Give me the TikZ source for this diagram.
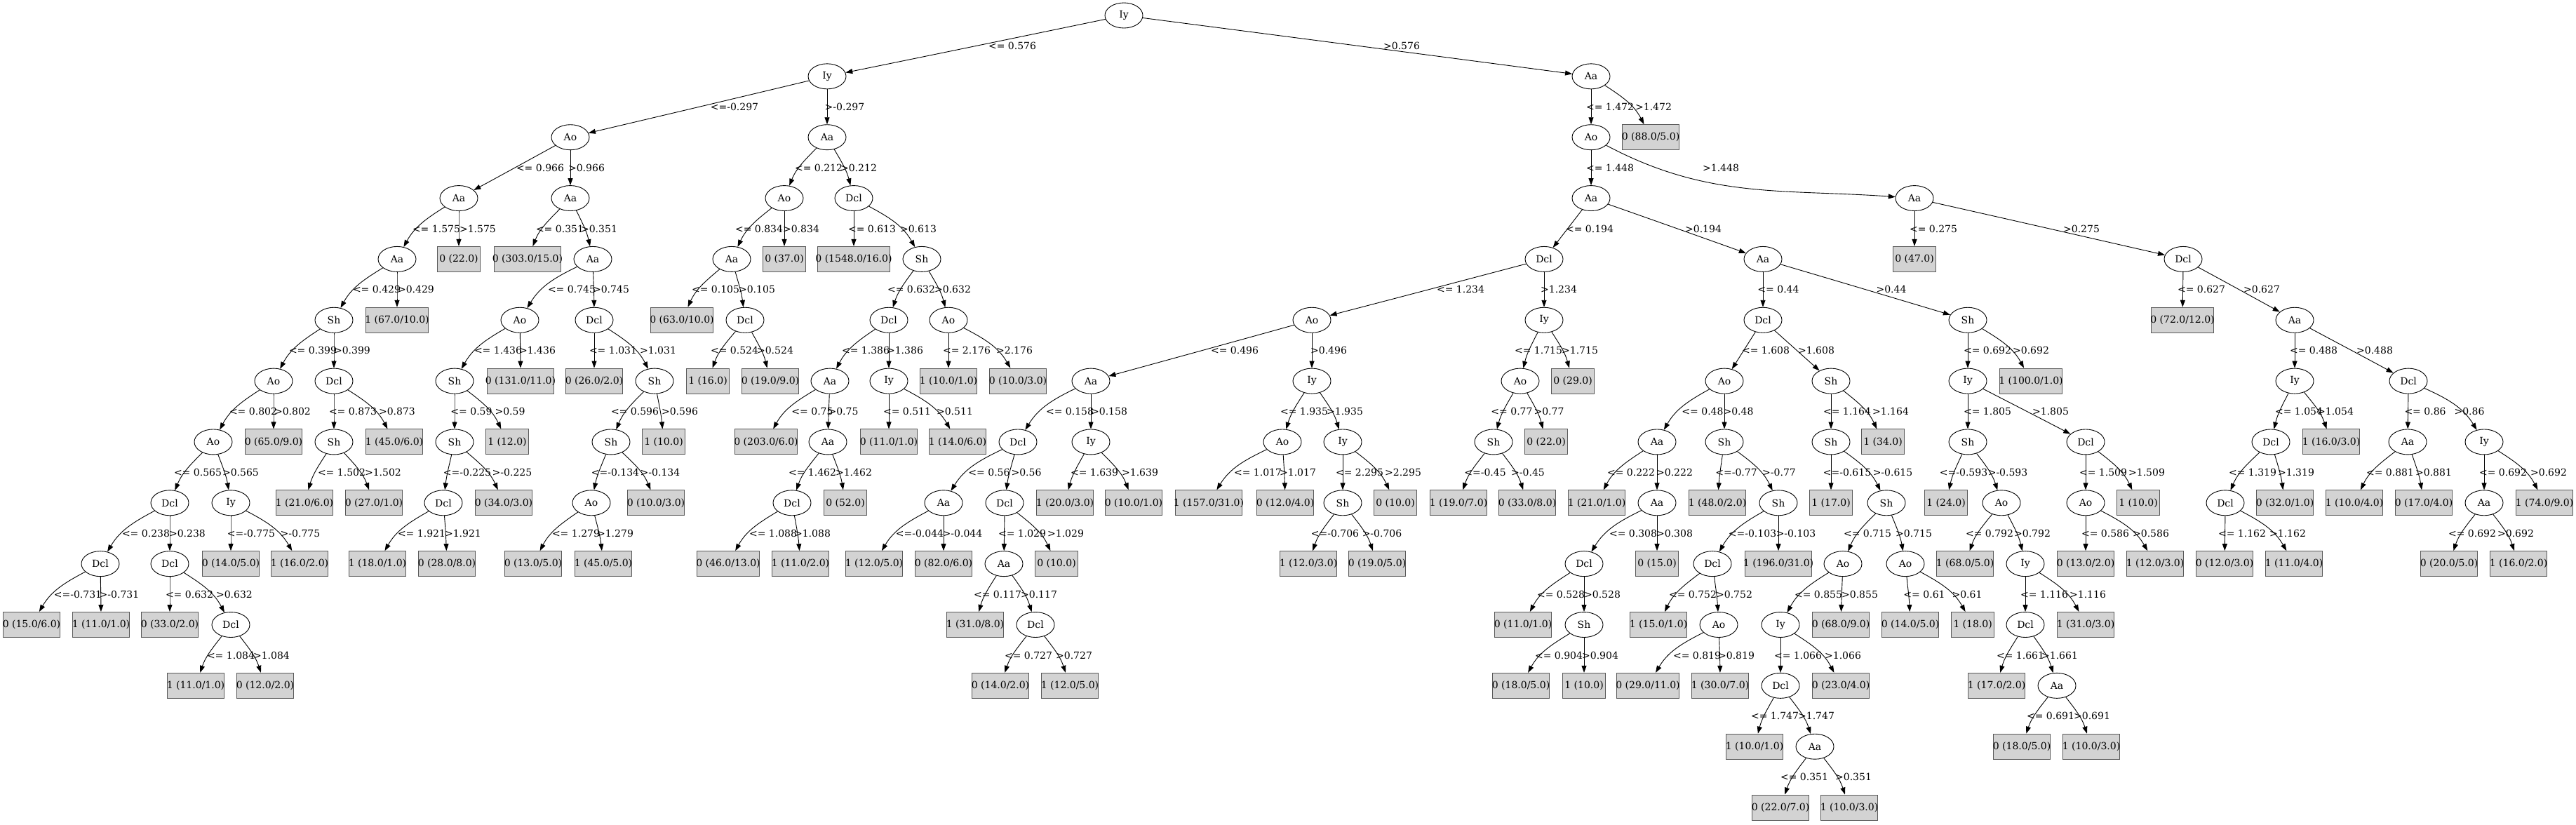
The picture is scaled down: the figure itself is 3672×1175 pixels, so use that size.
\documentclass[tikz,border=0pt]{standalone}
\usepackage{fontspec}
\setmainfont{DejaVu Serif}
\newfontfamily\tmsfont{Liberation Serif}
\usetikzlibrary{shapes.geometric,arrows.meta,calc}
\definecolor{leafgray}{RGB}{211,211,211}
\newlength\lfw
\tikzset{
  tnode/.style={ellipse,draw,line width=0.9pt,minimum width=54pt,minimum height=36pt,inner sep=0pt,font=\fontsize{14pt}{16pt}\selectfont},
  tleaf/.style={rectangle,draw=black!65,fill=leafgray,line width=1pt,minimum width=54pt,minimum height=36pt,inner xsep=8pt,inner ysep=0pt,font=\fontsize{14pt}{16pt}\selectfont},
  edgeline/.style={draw,line width=0.9pt,-{Triangle[length=10pt,width=7pt]}},
  elab/.style={inner sep=0pt,font=\fontsize{14pt}{16pt}\selectfont}
}
\newcommand\mkInner[4]{\node[tnode] (#1) at (#2,{22+86.85*#3}) {#4};}
\newcommand\mkLeaf[4]{\node[tleaf] (#1) at (#2,{22+86.85*#3}) {\settowidth{\lfw}{\tmsfont #4}\makebox[\lfw][c]{#4}};}
\newcommand\mkEdge[4]{%
  \draw[edgeline] let \p1=($(#2)-(#1)$), \n1={atan2(\y1,\x1)}, \n2={abs(\x1)>140?0:1},
    \n3={\n1+0.28*\n2*(\n1+90)}, \n4={\n1+180+0.38*\n2*(90-\n1-180)} in (#1) to[out=\n3,in=\n4] (#2);
  \path let \p1=($(#1)!0.5!(#2)$) in node[elab] (lab-#2) at (#4pt,\y1) {#3};}
\newcommand\mkEdgeS[4]{%
  \draw[edgeline] (#1) -- (#2);
  \path let \p1=($(#1)!0.5!(#2)$) in node[elab] (lab-#2) at (#4pt,\y1) {#3};}
\begin{document}
\begin{tikzpicture}[x=1pt,y=-1pt]
\useasboundingbox (0,0) rectangle (3672,1175);
\fill[white] (0,0) rectangle (3672,1175);
% level 0
\mkInner{r}{1602}{0}{Iy}
% level 1
\mkInner{a}{1179}{1}{Iy}
\mkInner{b}{2268}{1}{Aa}
% level 2
\mkInner{c}{813}{2}{Ao}
\mkInner{d}{1179}{2}{Aa}
\mkInner{e}{2268}{2}{Ao}
\mkLeaf{L1}{2353}{2}{0 (88.0/5.0)}
% level 3
\mkInner{f}{654}{3}{Aa}
\mkInner{g}{813}{3}{Aa}
\mkInner{h}{1118}{3}{Ao}
\mkInner{i}{1217}{3}{Dcl}
\mkInner{j}{2268}{3}{Aa}
\mkInner{k}{2729}{3}{Aa}
% level 4
\mkInner{l}{566}{4}{Aa}
\mkLeaf{L2}{654}{4}{0 (22.0)}
\mkLeaf{L3}{752}{4}{0 (303.0/15.0)}
\mkInner{m}{845}{4}{Aa}
\mkInner{n}{1043}{4}{Aa}
\mkLeaf{L4}{1118}{4}{0 (37.0)}
\mkLeaf{L5}{1217}{4}{0 (1548.0/16.0)}
\mkInner{o}{1314}{4}{Sh}
\mkInner{p}{2201}{4}{Dcl}
\mkInner{q}{2513}{4}{Aa}
\mkLeaf{L6}{2729}{4}{0 (47.0)}
\mkInner{s}{3112}{4}{Dcl}
% level 5
\mkInner{t}{476}{5}{Sh}
\mkLeaf{L7}{566}{5}{1 (67.0/10.0)}
\mkInner{u}{741}{5}{Ao}
\mkInner{v}{847}{5}{Dcl}
\mkLeaf{L8}{972}{5}{0 (63.0/10.0)}
\mkInner{w}{1062}{5}{Dcl}
\mkInner{x}{1267}{5}{Dcl}
\mkInner{y}{1352}{5}{Ao}
\mkInner{z}{1870}{5}{Ao}
\mkInner{aa}{2201}{5}{Iy}
\mkInner{ab}{2513}{5}{Dcl}
\mkInner{ac}{2805}{5}{Sh}
\mkLeaf{L9}{3111}{5}{0 (72.0/12.0)}
\mkInner{ad}{3271}{5}{Aa}
% level 6
\mkInner{ae}{390}{6}{Ao}
\mkInner{af}{476}{6}{Dcl}
\mkInner{ag}{648}{6}{Sh}
\mkLeaf{L10}{742}{6}{0 (131.0/11.0)}
\mkLeaf{L11}{847}{6}{0 (26.0/2.0)}
\mkInner{ah}{933}{6}{Sh}
\mkLeaf{L12}{1009}{6}{1 (16.0)}
\mkLeaf{L13}{1098}{6}{0 (19.0/9.0)}
\mkInner{ai}{1183}{6}{Aa}
\mkInner{aj}{1267}{6}{Iy}
\mkLeaf{L14}{1352}{6}{1 (10.0/1.0)}
\mkLeaf{L15}{1451}{6}{0 (10.0/3.0)}
\mkInner{ak}{1555}{6}{Aa}
\mkInner{al}{1870}{6}{Iy}
\mkInner{am}{2167}{6}{Ao}
\mkLeaf{L16}{2242}{6}{0 (29.0)}
\mkInner{an}{2458}{6}{Ao}
\mkInner{ao}{2610}{6}{Sh}
\mkInner{ap}{2805}{6}{Iy}
\mkLeaf{L17}{2895}{6}{1 (100.0/1.0)}
\mkInner{aq}{3271}{6}{Iy}
\mkInner{ar}{3433}{6}{Dcl}
% level 7
\mkInner{as}{304}{7}{Ao}
\mkLeaf{L18}{390}{7}{0 (65.0/9.0)}
\mkInner{at}{476}{7}{Sh}
\mkLeaf{L19}{562}{7}{1 (45.0/6.0)}
\mkInner{au}{648}{7}{Sh}
\mkLeaf{L20}{723}{7}{1 (12.0)}
\mkInner{av}{871}{7}{Sh}
\mkLeaf{L21}{946}{7}{1 (10.0)}
\mkLeaf{L22}{1092}{7}{0 (203.0/6.0)}
\mkInner{aw}{1180}{7}{Aa}
\mkLeaf{L23}{1267}{7}{0 (11.0/1.0)}
\mkLeaf{L24}{1365}{7}{1 (14.0/6.0)}
\mkInner{ax}{1451}{7}{Dcl}
\mkInner{ay}{1555}{7}{Iy}
\mkInner{az}{1828}{7}{Ao}
\mkInner{ba}{1914}{7}{Iy}
\mkInner{bb}{2129}{7}{Sh}
\mkLeaf{L25}{2204}{7}{0 (22.0)}
\mkInner{bc}{2362}{7}{Aa}
\mkInner{bd}{2458}{7}{Sh}
\mkInner{be}{2610}{7}{Sh}
\mkLeaf{L26}{2684}{7}{1 (34.0)}
\mkInner{bf}{2805}{7}{Sh}
\mkInner{bg}{2973}{7}{Dcl}
\mkInner{bh}{3237}{7}{Dcl}
\mkLeaf{L27}{3323}{7}{1 (16.0/3.0)}
\mkInner{bi}{3432}{7}{Aa}
\mkInner{bj}{3541}{7}{Iy}
% level 8
\mkInner{bk}{242}{8}{Dcl}
\mkInner{bl}{329}{8}{Iy}
\mkLeaf{L28}{434}{8}{1 (21.0/6.0)}
\mkLeaf{L29}{533}{8}{0 (27.0/1.0)}
\mkInner{bm}{632}{8}{Dcl}
\mkLeaf{L30}{718}{8}{0 (34.0/3.0)}
\mkInner{bn}{843}{8}{Ao}
\mkLeaf{L31}{935}{8}{0 (10.0/3.0)}
\mkInner{bo}{1129}{8}{Dcl}
\mkLeaf{L32}{1205}{8}{0 (52.0)}
\mkInner{bp}{1345}{8}{Aa}
\mkInner{bq}{1432}{8}{Dcl}
\mkLeaf{L33}{1518}{8}{1 (20.0/3.0)}
\mkLeaf{L34}{1616}{8}{0 (10.0/1.0)}
\mkLeaf{L35}{1723}{8}{1 (157.0/31.0)}
\mkLeaf{L36}{1832}{8}{0 (12.0/4.0)}
\mkInner{br}{1914}{8}{Sh}
\mkLeaf{L37}{1989}{8}{0 (10.0)}
\mkLeaf{L38}{2079}{8}{1 (19.0/7.0)}
\mkLeaf{L39}{2177}{8}{0 (33.0/8.0)}
\mkLeaf{L40}{2276}{8}{1 (21.0/1.0)}
\mkInner{bs}{2362}{8}{Aa}
\mkLeaf{L41}{2448}{8}{1 (48.0/2.0)}
\mkInner{bt}{2535}{8}{Sh}
\mkLeaf{L42}{2610}{8}{1 (17.0)}
\mkInner{bu}{2689}{8}{Sh}
\mkLeaf{L43}{2774}{8}{1 (24.0)}
\mkInner{bv}{2853}{8}{Ao}
\mkInner{bw}{2973}{8}{Ao}
\mkLeaf{L44}{3048}{8}{1 (10.0)}
\mkInner{bx}{3172}{8}{Dcl}
\mkLeaf{L45}{3257}{8}{0 (32.0/1.0)}
\mkLeaf{L46}{3356}{8}{1 (10.0/4.0)}
\mkLeaf{L47}{3455}{8}{0 (17.0/4.0)}
\mkInner{by}{3541}{8}{Aa}
\mkLeaf{L48}{3627}{8}{1 (74.0/9.0)}
% level 9
\mkInner{bz}{143}{9}{Dcl}
\mkInner{ca}{242}{9}{Dcl}
\mkLeaf{L49}{329}{9}{0 (14.0/5.0)}
\mkLeaf{L50}{427}{9}{1 (16.0/2.0)}
\mkLeaf{L51}{538}{9}{1 (18.0/1.0)}
\mkLeaf{L52}{637}{9}{0 (28.0/8.0)}
\mkLeaf{L53}{760}{9}{0 (13.0/5.0)}
\mkLeaf{L54}{860}{9}{1 (45.0/5.0)}
\mkLeaf{L55}{1038}{9}{0 (46.0/13.0)}
\mkLeaf{L56}{1141}{9}{1 (11.0/2.0)}
\mkLeaf{L57}{1246}{9}{1 (12.0/5.0)}
\mkLeaf{L58}{1345}{9}{0 (82.0/6.0)}
\mkInner{cb}{1431}{9}{Aa}
\mkLeaf{L59}{1506}{9}{0 (10.0)}
\mkLeaf{L60}{1865}{9}{1 (12.0/3.0)}
\mkLeaf{L61}{1963}{9}{0 (19.0/5.0)}
\mkInner{cc}{2258}{9}{Dcl}
\mkLeaf{L62}{2362}{9}{0 (15.0)}
\mkInner{cd}{2441}{9}{Dcl}
\mkLeaf{L63}{2535}{9}{1 (196.0/31.0)}
\mkInner{ce}{2627}{9}{Ao}
\mkInner{cf}{2716}{9}{Ao}
\mkLeaf{L64}{2801}{9}{1 (68.0/5.0)}
\mkInner{cg}{2887}{9}{Iy}
\mkLeaf{L65}{2973}{9}{0 (13.0/2.0)}
\mkLeaf{L66}{3072}{9}{1 (12.0/3.0)}
\mkLeaf{L67}{3171}{9}{0 (12.0/3.0)}
\mkLeaf{L68}{3270}{9}{1 (11.0/4.0)}
\mkLeaf{L69}{3491}{9}{0 (20.0/5.0)}
\mkLeaf{L70}{3590}{9}{1 (16.0/2.0)}
% level 10
\mkLeaf{L71}{45}{10}{0 (15.0/6.0)}
\mkLeaf{L72}{144}{10}{1 (11.0/1.0)}
\mkLeaf{L73}{242}{10}{0 (33.0/2.0)}
\mkInner{ch}{329}{10}{Dcl}
\mkLeaf{L74}{1390}{10}{1 (31.0/8.0)}
\mkInner{ci}{1476}{10}{Dcl}
\mkLeaf{L75}{2171}{10}{0 (11.0/1.0)}
\mkInner{cj}{2258}{10}{Sh}
\mkLeaf{L76}{2364}{10}{1 (15.0/1.0)}
\mkInner{ck}{2450}{10}{Ao}
\mkInner{cl}{2538}{10}{Iy}
\mkLeaf{L77}{2624}{10}{0 (68.0/9.0)}
\mkLeaf{L78}{2723}{10}{0 (14.0/5.0)}
\mkLeaf{L79}{2812}{10}{1 (18.0)}
\mkInner{cm}{2887}{10}{Dcl}
\mkLeaf{L80}{2973}{10}{1 (31.0/3.0)}
% level 11
\mkLeaf{L81}{279}{11}{1 (11.0/1.0)}
\mkLeaf{L82}{378}{11}{0 (12.0/2.0)}
\mkLeaf{L83}{1426}{11}{0 (14.0/2.0)}
\mkLeaf{L84}{1525}{11}{1 (12.0/5.0)}
\mkLeaf{L85}{2168}{11}{0 (18.0/5.0)}
\mkLeaf{L86}{2258}{11}{1 (10.0)}
\mkLeaf{L87}{2349}{11}{0 (29.0/11.0)}
\mkLeaf{L88}{2452}{11}{1 (30.0/7.0)}
\mkInner{cn}{2538}{11}{Dcl}
\mkLeaf{L89}{2624}{11}{0 (23.0/4.0)}
\mkLeaf{L90}{2846}{11}{1 (17.0/2.0)}
\mkInner{co}{2932}{11}{Aa}
% level 12
\mkLeaf{L91}{2501}{12}{1 (10.0/1.0)}
\mkInner{cp}{2587}{12}{Aa}
\mkLeaf{L92}{2882}{12}{0 (18.0/5.0)}
\mkLeaf{L93}{2981}{12}{1 (10.0/3.0)}
% level 13
\mkLeaf{L94}{2538}{13}{0 (22.0/7.0)}
\mkLeaf{L95}{2636}{13}{1 (10.0/3.0)}
% ---------- edges ----------
\mkEdge{r}{a}{<= 0.576}{1443}
\mkEdge{r}{b}{>0.576}{1998}
\mkEdge{a}{c}{<=-0.297}{1047}
\mkEdge{a}{d}{>-0.297}{1204}
\mkEdge{b}{e}{<= 1.472}{2295}
\mkEdge{b}{L1}{>1.472}{2357}
\mkEdge{c}{f}{<= 0.966}{770}
\mkEdge{c}{g}{>0.966}{836}
\mkEdge{d}{h}{<= 0.212}{1167}
\mkEdge{d}{i}{>0.212}{1224}
\mkEdge{e}{j}{<= 1.448}{2295}
\draw[edgeline] (e) to[out=-28,in=176] (k);
\path let \p1=($(e)!0.5!(k)$) in node[elab] (lab-k) at (2453pt,\y1) {>1.448};
\mkEdge{f}{l}{<= 1.575}{622}
\mkEdge{f}{L2}{>1.575}{681}
\mkEdge{g}{L3}{<= 0.351}{798}
\mkEdge{g}{m}{>0.351}{854}
\mkEdge{h}{n}{<= 0.834}{1082}
\mkEdge{h}{L4}{>0.834}{1142}
\mkEdge{i}{L5}{<= 0.613}{1243}
\mkEdge{i}{o}{>0.613}{1309}
\mkEdgeS{j}{p}{<= 0.194}{2266}
\mkEdge{j}{q}{>0.194}{2428}
\mkEdge{k}{L6}{<= 0.275}{2756}
\mkEdge{k}{s}{>0.275}{2967}
\mkEdge{l}{t}{<= 0.429}{537}
\mkEdge{l}{L7}{>0.429}{593}
\mkEdge{m}{u}{<= 0.745}{815}
\mkEdge{m}{v}{>0.745}{871}
\mkEdge{n}{L8}{<= 0.105}{1020}
\mkEdge{n}{w}{>0.105}{1079}
\mkEdge{o}{x}{<= 0.632}{1299}
\mkEdge{o}{y}{>0.632}{1358}
\mkEdge{p}{z}{<= 1.234}{2082}
\mkEdge{p}{aa}{>1.234}{2222}
\mkEdgeS{q}{ab}{<= 0.44}{2535}
\mkEdge{q}{ac}{>0.44}{2696}
\mkEdge{s}{L9}{<= 0.627}{3138}
\mkEdge{s}{ad}{>0.627}{3224}
\mkEdge{t}{ae}{<= 0.399}{446}
\mkEdge{t}{af}{>0.399}{502}
\mkEdge{u}{ag}{<= 1.436}{710}
\mkEdge{u}{L10}{>1.436}{766}
\mkEdge{v}{L11}{<= 1.031}{874}
\mkEdge{v}{ah}{>1.031}{938}
\mkEdge{w}{L12}{<= 0.524}{1047}
\mkEdge{w}{L13}{>0.524}{1105}
\mkEdge{x}{ai}{<= 1.386}{1234}
\mkEdge{x}{aj}{>1.386}{1290}
\mkEdge{y}{L14}{<= 2.176}{1378}
\mkEdge{y}{L15}{>2.176}{1446}
\mkEdge{z}{ak}{<= 0.496}{1760}
\mkEdge{z}{al}{>0.496}{1894}
\mkEdge{aa}{am}{<= 1.715}{2193}
\mkEdge{aa}{L16}{>1.715}{2252}
\mkEdgeS{ab}{an}{<= 1.608}{2517}
\mkEdgeS{ab}{ao}{>1.608}{2589}
\mkEdge{ac}{ap}{<= 0.692}{2833}
\mkEdge{ac}{L17}{>0.692}{2895}
\mkEdge{ad}{aq}{<= 0.488}{3298}
\mkEdge{ad}{ar}{>0.488}{3385}
\mkEdge{ae}{as}{<= 0.802}{361}
\mkEdge{ae}{L18}{>0.802}{417}
\mkEdge{af}{at}{<= 0.873}{503}
\mkEdge{af}{L19}{>0.873}{566}
\mkEdge{ag}{au}{<= 0.59}{672}
\mkEdge{ag}{L20}{>0.59}{727}
\mkEdge{ah}{av}{<= 0.596}{905}
\mkEdge{ah}{L21}{>0.596}{969}
\mkEdge{ai}{L22}{<= 0.75}{1158}
\mkEdge{ai}{aw}{>0.75}{1202}
\mkEdge{aj}{L23}{<= 0.511}{1293}
\mkEdge{aj}{L24}{>0.511}{1361}
\mkEdge{ak}{ax}{<= 0.158}{1525}
\mkEdge{ak}{ay}{>0.158}{1581}
\mkEdge{al}{az}{<= 1.935}{1859}
\mkEdge{al}{ba}{>1.935}{1917}
\mkEdge{am}{bb}{<= 0.77}{2155}
\mkEdge{am}{L25}{>0.77}{2208}
\mkEdge{an}{bc}{<= 0.48}{2427}
\mkEdge{an}{bd}{>0.48}{2478}
\mkEdge{ao}{be}{<= 1.164}{2633}
\mkEdge{ao}{L26}{>1.164}{2695}
\mkEdge{ap}{bf}{<= 1.805}{2833}
\mkEdge{ap}{bg}{>1.805}{2923}
\mkEdge{aq}{bh}{<= 1.054}{3277}
\mkEdge{aq}{L27}{>1.054}{3329}
\mkEdge{ar}{bi}{<= 0.86}{3457}
\mkEdge{ar}{bj}{>0.86}{3520}
\mkEdge{as}{bk}{<= 0.565}{282}
\mkEdge{as}{bl}{>0.565}{343}
\mkEdge{at}{L28}{<= 1.502}{487}
\mkEdge{at}{L29}{>1.502}{546}
\mkEdge{au}{bm}{<=-0.225}{666}
\mkEdge{au}{L30}{>-0.225}{730}
\mkEdge{av}{bn}{<=-0.134}{877}
\mkEdge{av}{L31}{>-0.134}{941}
\mkEdge{aw}{bo}{<= 1.462}{1158}
\mkEdge{aw}{L32}{>1.462}{1217}
\mkEdge{ax}{bp}{<= 0.56}{1410}
\mkEdge{ax}{bq}{>0.56}{1463}
\mkEdge{ay}{L33}{<= 1.639}{1560}
\mkEdge{ay}{L34}{>1.639}{1625}
\mkEdge{az}{L35}{<= 1.017}{1793}
\mkEdge{az}{L36}{>1.017}{1850}
\mkEdge{ba}{br}{<= 2.295}{1938}
\mkEdge{ba}{L37}{>2.295}{2000}
\mkEdge{bb}{L38}{<=-0.45}{2117}
\mkEdge{bb}{L39}{>-0.45}{2178}
\mkEdge{bc}{L40}{<= 0.222}{2325}
\mkEdge{bc}{bs}{>0.222}{2387}
\mkEdge{bd}{L41}{<=-0.77}{2475}
\mkEdge{bd}{bt}{>-0.77}{2536}
\mkEdge{be}{L42}{<=-0.615}{2633}
\mkEdge{be}{bu}{>-0.615}{2698}
\mkEdge{bf}{L43}{<=-0.593}{2799}
\mkEdge{bf}{bv}{>-0.593}{2862}
\mkEdge{bg}{bw}{<= 1.509}{2998}
\mkEdge{bg}{L44}{>1.509}{3060}
\mkEdge{bh}{bx}{<= 1.319}{3211}
\mkEdge{bh}{L45}{>1.319}{3273}
\mkEdge{bi}{L46}{<= 0.881}{3407}
\mkEdge{bi}{L47}{>0.881}{3469}
\mkEdge{bj}{by}{<= 0.692}{3568}
\mkEdge{bj}{L48}{>0.692}{3633}
\mkEdge{bk}{bz}{<= 0.238}{208}
\mkEdge{bk}{ca}{>0.238}{267}
\mkEdge{bl}{L49}{<=-0.775}{358}
\mkEdge{bl}{L50}{>-0.775}{428}
\mkEdge{bm}{L51}{<= 1.921}{601}
\mkEdge{bm}{L52}{>1.921}{660}
\mkEdge{bn}{L53}{<= 1.279}{821}
\mkEdge{bn}{L54}{>1.279}{877}
\mkEdge{bo}{L55}{<= 1.088}{1102}
\mkEdge{bo}{L56}{>1.088}{1158}
\mkEdge{bp}{L57}{<=-0.044}{1311}
\mkEdge{bp}{L58}{>-0.044}{1372}
\mkEdge{bq}{cb}{<= 1.029}{1457}
\mkEdge{bq}{L59}{>1.029}{1519}
\mkEdge{br}{L60}{<=-0.706}{1903}
\mkEdge{br}{L61}{>-0.706}{1970}
\mkEdge{bs}{cc}{<= 0.308}{2328}
\mkEdge{bs}{L62}{>0.308}{2387}
\mkEdge{bt}{cd}{<=-0.103}{2498}
\mkEdge{bt}{L63}{>-0.103}{2560}
\mkEdge{bu}{ce}{<= 0.715}{2662}
\mkEdge{bu}{cf}{>0.715}{2728}
\mkEdge{bv}{L64}{<= 0.792}{2836}
\mkEdge{bv}{cg}{>0.792}{2897}
\mkEdge{bw}{L65}{<= 0.586}{3001}
\mkEdge{bw}{L66}{>0.586}{3066}
\mkEdge{bx}{L67}{<= 1.162}{3196}
\mkEdge{bx}{L68}{>1.162}{3261}
\mkEdge{by}{L69}{<= 0.692}{3524}
\mkEdge{by}{L70}{>0.692}{3586}
\mkEdge{bz}{L71}{<=-0.731}{111}
\mkEdge{bz}{L72}{>-0.731}{170}
\mkEdge{ca}{L73}{<= 0.632}{270}
\mkEdge{ca}{ch}{>0.632}{334}
\mkEdge{cb}{L74}{<= 0.117}{1422}
\mkEdge{cb}{ci}{>0.117}{1481}
\mkEdge{cc}{L75}{<= 0.528}{2225}
\mkEdge{cc}{cj}{>0.528}{2284}
\mkEdge{cd}{L76}{<= 0.752}{2413}
\mkEdge{cd}{ck}{>0.752}{2472}
\mkEdge{ce}{cl}{<= 0.855}{2592}
\mkEdge{ce}{L77}{>0.855}{2651}
\mkEdge{cf}{L78}{<= 0.61}{2743}
\mkEdge{cf}{L79}{>0.61}{2804}
\mkEdge{cg}{cm}{<= 1.116}{2914}
\mkEdge{cg}{L80}{>1.116}{2976}
\mkEdge{ch}{L81}{<= 1.084}{329}
\mkEdge{ch}{L82}{>1.084}{387}
\mkEdge{ci}{L83}{<= 0.727}{1466}
\mkEdge{ci}{L84}{>0.727}{1531}
\mkEdge{cj}{L85}{<= 0.904}{2222}
\mkEdge{cj}{L86}{>0.904}{2281}
\mkEdge{ck}{L87}{<= 0.819}{2419}
\mkEdge{ck}{L88}{>0.819}{2475}
\mkEdge{cl}{cn}{<= 1.066}{2563}
\mkEdge{cl}{L89}{>1.066}{2627}
\mkEdge{cm}{L90}{<= 1.661}{2880}
\mkEdge{cm}{co}{>1.661}{2936}
\mkEdge{cn}{L91}{<= 1.747}{2530}
\mkEdge{cn}{cp}{>1.747}{2589}
\mkEdge{co}{L92}{<= 0.691}{2923}
\mkEdge{co}{L93}{>0.691}{2982}
\mkEdge{cp}{L94}{<= 0.351}{2572}
\mkEdge{cp}{L95}{>0.351}{2642}
\end{tikzpicture}
\end{document}
